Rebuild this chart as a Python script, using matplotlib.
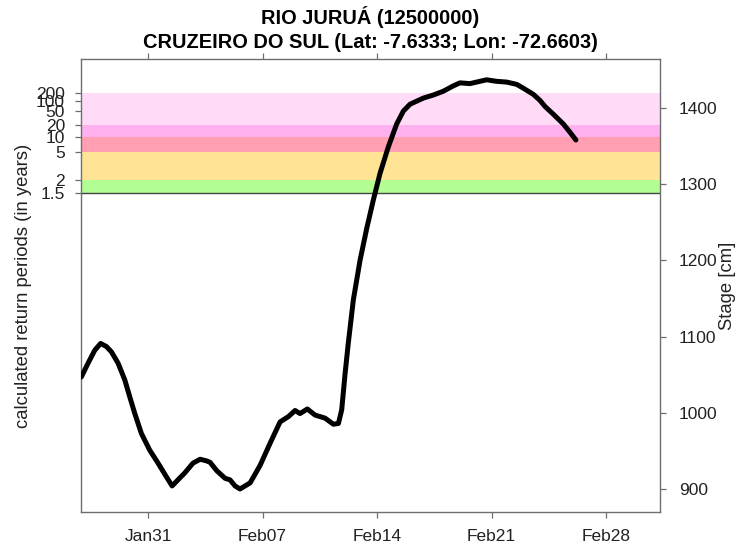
import datetime as dt
import matplotlib
matplotlib.use('Agg')
import matplotlib.pyplot as plt
import matplotlib.dates as mdates

plt.rcParams['font.family'] = ['Liberation Sans', 'DejaVu Sans']

# stage readings, days counted from Jan 31 00:00
day_offset = [-4.08, -3.67, -3.26, -2.90, -2.55, -2.24, -1.83, -1.42, -1.12, -0.81,
              -0.41, 0.10, 0.61, 1.12, 1.47, 1.83, 2.24, 2.75, 3.18, 3.56,
              3.79, 4.20, 4.71, 5.01, 5.32, 5.62, 6.24, 6.85, 7.46, 8.07,
              8.58, 8.99, 9.29, 9.74, 10.21, 10.82, 11.33, 11.64, 11.84, 12.04,
              12.24, 12.55, 12.96, 13.37, 13.77, 14.18, 14.69, 15.20, 15.61, 16.02,
              16.83, 17.44, 18.05, 18.66, 19.07, 19.68, 20.29, 20.70, 21.31, 21.93,
              22.54, 22.94, 23.55, 23.96, 24.27, 24.77, 25.39, 25.80, 26.16]
stage_cm = [1047, 1065, 1082, 1091, 1087, 1080, 1065, 1043, 1021, 999,
            973, 951, 934, 916, 904, 912, 921, 934, 939, 937,
            935, 924, 914, 912, 904, 900, 908, 931, 960, 988,
            995, 1003, 999, 1005, 997, 993, 985, 986, 1004, 1050,
            1091, 1148, 1200, 1242, 1279, 1314, 1349, 1379, 1396, 1405,
            1413, 1417, 1422, 1429, 1433, 1432, 1435, 1437, 1435, 1434,
            1431, 1426, 1418, 1410, 1402, 1392, 1379, 1368, 1358]

# return period thresholds and the stage they correspond to
return_periods = ['1.5', '2', '5', '10', '20', '50', '100', '200']
rp_stage = [1288.5, 1305.5, 1342.3, 1362.0, 1377.7, 1396.0, 1409.2, 1419.7]

# band between two thresholds -> colour
bands = [(1.5, 2, '#b3fd95'), (2, 5, '#ffe496'), (5, 10, '#ff9fb1'),
         (10, 20, '#ffb1ef'), (20, 200, '#ffdbf8')]

stage_ticks = [900, 1000, 1100, 1200, 1300, 1400]
date_ticks = ['2023-01-31', '2023-02-07', '2023-02-14', '2023-02-21', '2023-02-28']

base = dt.datetime(2023, 1, 31)
times = [base + dt.timedelta(days=d) for d in day_offset]
rp_lookup = dict(zip([float(r) for r in return_periods], rp_stage))

fig = plt.figure(figsize=(7.44, 5.46), dpi=100)
ax = fig.add_axes([81 / 744, 1 - 512 / 546, 579 / 744, 453 / 546])

x0 = base + dt.timedelta(days=-4.10)
x1 = base + dt.timedelta(days=31.3)
ax.set_xlim(x0, x1)
ax.set_ylim(869.8, 1464.3)

for lo, hi, col in bands:
    ax.axhspan(rp_lookup[lo], rp_lookup[hi], color=col, lw=0, zorder=0)
ax.axhline(rp_lookup[1.5], color='#444444', lw=1.0, zorder=1)

ax.plot(times, stage_cm, color='black', lw=3.6, solid_capstyle='round',
        solid_joinstyle='round', zorder=3)

box_col = '#6e6e6e'
for sp in ax.spines.values():
    sp.set_color(box_col)
    sp.set_linewidth(1.0)

fs_tick = 12.5
fs_lab = 13.3
ax.set_yticks(rp_stage)
ax.set_yticklabels(return_periods)
ax.set_xticks([mdates.datestr2num(d) for d in date_ticks])
ax.xaxis.set_major_formatter(mdates.DateFormatter('%b%d'))
ax.tick_params(axis='both', direction='out', length=4.5, width=0.9,
               color=box_col, labelsize=fs_tick, labelcolor='#222222')
ax.tick_params(axis='y', pad=7)
ax.tick_params(axis='x', pad=8, top=True)
ax.set_ylabel('calculated return periods (in years)', fontsize=fs_lab,
              color='#222222', labelpad=3)

ax2 = ax.twinx()
ax2.set_ylim(ax.get_ylim())
ax2.set_yticks(stage_ticks)
ax2.tick_params(axis='y', direction='out', length=4.5, width=0.9,
                color=box_col, labelsize=fs_tick, labelcolor='#222222', pad=9)
for sp in ax2.spines.values():
    sp.set_visible(False)
ax2.set_ylabel('Stage [cm]', fontsize=fs_lab, color='#222222', labelpad=1)

cx = (81 + 660) / 2 / 744
fig.text(cx, 1 - 17 / 546, 'RIO JURUÁ (12500000)', ha='center', va='center',
         fontsize=14.4, fontweight='bold')
fig.text(cx, 1 - 43 / 546, 'CRUZEIRO DO SUL (Lat: -7.6333; Lon: -72.6603)',
         ha='center', va='center', fontsize=14.4, fontweight='bold')

fig.savefig('out.png', dpi=100)
